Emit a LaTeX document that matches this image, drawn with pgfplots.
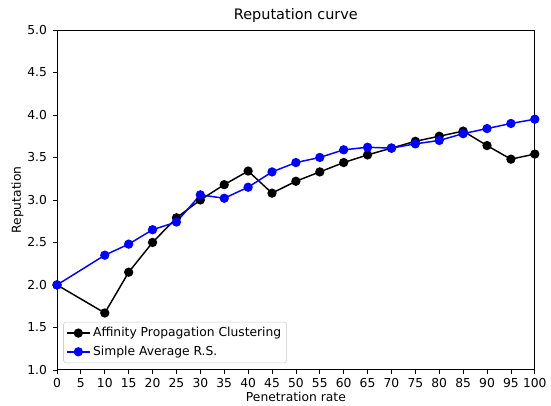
\documentclass[border=0pt]{standalone}
\usepackage{pgfplots}
\pgfplotsset{compat=1.18}
\usepackage{fontspec}
\setmainfont{DejaVu Sans}
\begin{document}
\begin{tikzpicture}
\begin{axis}[
  name=ax,
  scale only axis,
  width=357pt, height=254pt,
  xmin=0, xmax=100, ymin=1, ymax=5,
  xtick={0,5,...,100},
  ytick={1,1.5,...,5},
  yticklabel style={/pgf/number format/fixed, /pgf/number format/fixed zerofill, /pgf/number format/precision=1},
  /pgf/number format/assume math mode=true,
  tick align=outside,
  xtick pos=bottom, ytick pos=left,
  major tick length=3pt,
  tick style={black, line width=0.6pt},
  ticklabel style={font=\fontsize{9.2}{10}\selectfont},
  yticklabel style={xshift=-1pt},
  axis line style={line width=0.7pt},
  title={Reputation curve},
  title style={font=\fontsize{10.8}{12}\selectfont, yshift=-4pt},
  xlabel={Penetration rate},
  ylabel={Reputation},
  label style={font=\fontsize{9.2}{10}\selectfont},
  xlabel style={yshift=4pt},
  ylabel style={yshift=-4pt},
  legend style={at={(0.013,0.02)}, anchor=south west, font=\fontsize{9.2}{10}\selectfont,
    draw=black!20, rounded corners=2pt, row sep=1.5pt, inner sep=2pt},
  legend cell align=left,
]
\addplot[black, line width=1.1pt, mark=*, mark size=2.9pt] coordinates {
(0,2.0) (10,1.67) (15,2.15) (20,2.5) (25,2.79) (30,3.0) (35,3.18) (40,3.34) (45,3.08) (50,3.22)
(55,3.33) (60,3.44) (65,3.53) (70,3.61) (75,3.69) (80,3.75) (85,3.81) (90,3.64) (95,3.48) (100,3.54)};
\addlegendentry{Affinity Propagation Clustering}
\addplot[blue, line width=1.1pt, mark=*, mark size=2.9pt] coordinates {
(0,2.0) (10,2.35) (15,2.48) (20,2.65) (25,2.74) (30,3.06) (35,3.02) (40,3.15) (45,3.33) (50,3.44)
(55,3.50) (60,3.59) (65,3.62) (70,3.61) (75,3.66) (80,3.70) (85,3.78) (90,3.84) (95,3.90) (100,3.95)};
\addlegendentry{Simple Average R.S.}
\end{axis}
\path ([xshift=-42.6pt]ax.south west) ([yshift=22.4pt]ax.north east);
\end{tikzpicture}
\end{document}
